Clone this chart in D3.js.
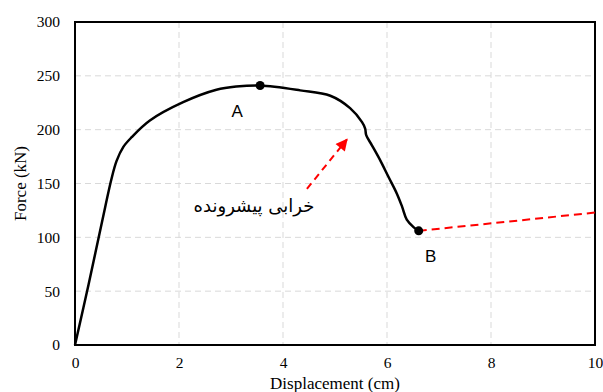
<!DOCTYPE html>
<html>
<head>
<meta charset="utf-8">
<script src="https://cdn.jsdelivr.net/npm/d3@7"></script>
<style>
  body { margin: 0; background: #fff; }
</style>
</head>
<body>
<div id="chart"></div>
<script>
var width = 603,
	height = 392,
	margin = {top: 22, right: 8, bottom: 47, left: 75};

// force-displacement curve (cm, kN)
var dispValues = [0, 0.26, 0.58, 0.7, 0.8, 0.93, 1.09, 1.44, 2.08, 2.72, 3.1, 3.56, 4.33, 4.91, 5.29, 5.52, 5.58, 5.6, 5.71, 5.87, 6.03, 6.19, 6.29, 6.38, 6.51, 6.61];
var forceValues = [0, 56, 128, 154, 171, 184, 193, 208.5, 225.5, 237, 240, 241, 236.5, 231.5, 220, 207, 201, 195, 185.5, 171.5, 156, 140.5, 128.5, 116.5, 109.5, 106];

// marked points
var pointNames = ["A", "B"];
var pointDisp = [3.56, 6.61];
var pointForce = [241, 106];

// dashed red extension after B
var extDisp = [6.61, 10];
var extForce = [106, 123];

// arrow for the annotation
var arrowDisp = [4.46, 5.23];
var arrowForce = [145, 191];
var noteText = "خرابی پیشرونده";

var xTicks = [0, 2, 4, 6, 8, 10];
var yTicks = [0, 50, 100, 150, 200, 250, 300];

var svg = d3.select("#chart").append("svg")
	.attr("width", width)
	.attr("height", height);

var defs = svg.append("defs");
defs.append("marker")
	.attr("id", "arrowhead")
	.attr("viewBox", "0 0 10 10")
	.attr("refX", 9)
	.attr("refY", 5)
	.attr("markerWidth", 6.5)
	.attr("markerHeight", 6)
	.attr("markerUnits", "strokeWidth")
	.attr("orient", "auto")
	.append("path")
	.attr("d", "M0,0 L10,5 L0,10 Z")
	.attr("fill", "#ff0000");

var x = d3.scaleLinear().domain([0, 10]).range([margin.left, width - margin.right]);
var y = d3.scaleLinear().domain([0, 300]).range([height - margin.bottom, margin.top]);

// grid
var grid = svg.append("g").attr("class", "grid");
grid.selectAll("line.v")
	.data(xTicks.slice(1, -1))
	.enter()
	.append("line")
	.attr("x1", function(d) { return x(d); })
	.attr("x2", function(d) { return x(d); })
	.attr("y1", y(300))
	.attr("y2", y(0))
	.attr("stroke", "#d9d9d9")
	.attr("stroke-dasharray", "6,4");
grid.selectAll("line.h")
	.data(yTicks.slice(1, -1))
	.enter()
	.append("line")
	.attr("x1", x(0))
	.attr("x2", x(10))
	.attr("y1", function(d) { return y(d); })
	.attr("y2", function(d) { return y(d); })
	.attr("stroke", "#d9d9d9")
	.attr("stroke-dasharray", "6,4");

// axes (labels only, frame drawn separately)
var xAxis = svg.append("g")
	.attr("transform", "translate(0," + y(0) + ")")
	.call(d3.axisBottom(x).tickValues(xTicks).tickSize(0).tickPadding(12));
var yAxis = svg.append("g")
	.attr("transform", "translate(" + x(0) + ",0)")
	.call(d3.axisLeft(y).tickValues(yTicks).tickSize(0).tickPadding(15));
[xAxis, yAxis].forEach(function(a) {
	a.attr("font-family", null).attr("font-size", null);
	a.select(".domain").remove();
	a.selectAll("text")
		.attr("font-family", "'Liberation Serif', 'Times New Roman', serif")
		.attr("font-size", 15.5)
		.attr("fill", "#000");
});

svg.append("rect")
	.attr("x", x(0))
	.attr("y", y(300))
	.attr("width", x(10) - x(0))
	.attr("height", y(0) - y(300))
	.attr("fill", "none")
	.attr("stroke", "#000")
	.attr("stroke-width", 2);

// axis titles
svg.append("text")
	.attr("x", (x(0) + x(10)) / 2)
	.attr("y", 389)
	.attr("text-anchor", "middle")
	.attr("font-family", "'Liberation Serif', 'Times New Roman', serif")
	.attr("font-size", 17)
	.text("Displacement (cm)");
svg.append("text")
	.attr("transform", "translate(26," + y(150) + ") rotate(-90)")
	.attr("text-anchor", "middle")
	.attr("font-family", "'Liberation Serif', 'Times New Roman', serif")
	.attr("font-size", 17)
	.text("Force (kN)");

// red dashed extension
svg.append("line")
	.attr("x1", x(extDisp[0]))
	.attr("y1", y(extForce[0]))
	.attr("x2", x(extDisp[1]))
	.attr("y2", y(extForce[1]))
	.attr("stroke", "#ff0000")
	.attr("stroke-width", 2)
	.attr("stroke-dasharray", "8,5");

// main curve
var curveData = dispValues.map(function(d, i) { return [d, forceValues[i]]; });
var line = d3.line()
	.x(function(d) { return x(d[0]); })
	.y(function(d) { return y(d[1]); })
	.curve(d3.curveCatmullRom.alpha(0.5));
svg.append("path")
	.datum(curveData)
	.attr("d", line)
	.attr("fill", "none")
	.attr("stroke", "#000")
	.attr("stroke-width", 2.5)
	.attr("stroke-linejoin", "round");

// points A, B
svg.selectAll("circle.pt")
	.data(pointNames)
	.enter()
	.append("circle")
	.attr("cx", function(d, i) { return x(pointDisp[i]); })
	.attr("cy", function(d, i) { return y(pointForce[i]); })
	.attr("r", 4.5)
	.attr("fill", "#000");
svg.selectAll("text.pt")
	.data(pointNames)
	.enter()
	.append("text")
	.attr("x", function(d, i) { return x(pointDisp[i]) + (i === 0 ? -23 : 12); })
	.attr("y", function(d, i) { return y(pointForce[i]) + 31; })
	.attr("text-anchor", "middle")
	.attr("font-family", "'Liberation Sans', Arial, sans-serif")
	.attr("font-size", 17)
	.text(function(d) { return d; });

// annotation arrow and text
svg.append("line")
	.attr("x1", x(arrowDisp[0]))
	.attr("y1", y(arrowForce[0]))
	.attr("x2", x(arrowDisp[1]))
	.attr("y2", y(arrowForce[1]))
	.attr("stroke", "#ff0000")
	.attr("stroke-width", 2)
	.attr("stroke-dasharray", "7,5")
	.attr("marker-end", "url(#arrowhead)");
svg.append("text")
	.attr("x", 254)
	.attr("y", 212)
	.attr("text-anchor", "middle")
	.attr("direction", "rtl")
	.attr("font-family", "'DejaVu Sans', sans-serif")
	.attr("font-size", 18)
	.text(noteText);
</script>
</body>
</html>
